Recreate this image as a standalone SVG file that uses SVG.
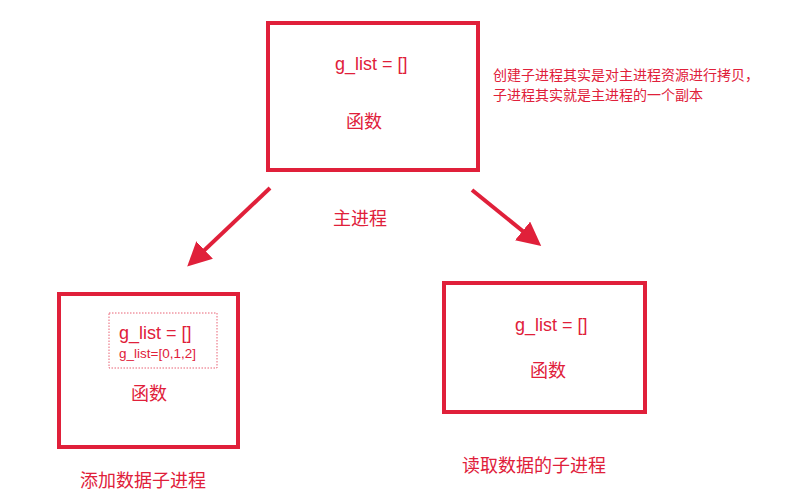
<svg xmlns="http://www.w3.org/2000/svg" width="808" height="501" viewBox="0 0 808 501">
<style>
text{font-family:"Liberation Sans","Noto Sans CJK SC",sans-serif;fill:#e0203a;font-size:18px}
.box{fill:none;stroke:#e0203a;stroke-width:4}
.arr{stroke:#e0203a;stroke-width:4;fill:none;marker-end:url(#ah)}
.s{font-size:14px}
.m{font-size:13.5px}
</style>
<defs><marker id="ah" markerWidth="6" markerHeight="6" refX="4" refY="3" orient="auto" markerUnits="strokeWidth"><path d="M0,0 L6,3 L0,6 Z" fill="#e0203a"/></marker></defs>
<rect width="808" height="501" fill="#fff"/>
<g id="main">
<rect class="box" x="268" y="23" width="210" height="147"/>
<text x="335" y="70">g_list = []</text>
<text x="346" y="128">函数</text>
<text x="333" y="225">主进程</text>
</g>
<g id="note">
<text class="s" x="493" y="80">创建子进程其实是对主进程资源进行拷贝，</text>
<text class="s" x="493" y="100">子进程其实就是主进程的一个副本</text>
</g>
<g id="child1">
<rect class="box" x="59" y="294" width="179" height="153"/>
<rect x="109" y="313" width="108" height="55" fill="none" stroke="#e0203a" stroke-width="1" stroke-dasharray="1.5,1.5" opacity="0.7"/>
<text x="119" y="339">g_list = []</text>
<text class="m" x="119" y="358">g_list=[0,1,2]</text>
<text x="131" y="400">函数</text>
<text x="80" y="487">添加数据子进程</text>
</g>
<g id="child2">
<rect class="box" x="444" y="283" width="201" height="129"/>
<text x="515" y="331">g_list = []</text>
<text x="530" y="377">函数</text>
<text x="462" y="472">读取数据的子进程</text>
</g>
<g id="connectors">
<line class="arr" x1="270" y1="188" x2="193" y2="261"/>
<line class="arr" x1="472" y1="190" x2="535" y2="241"/>
</g>
</svg>
